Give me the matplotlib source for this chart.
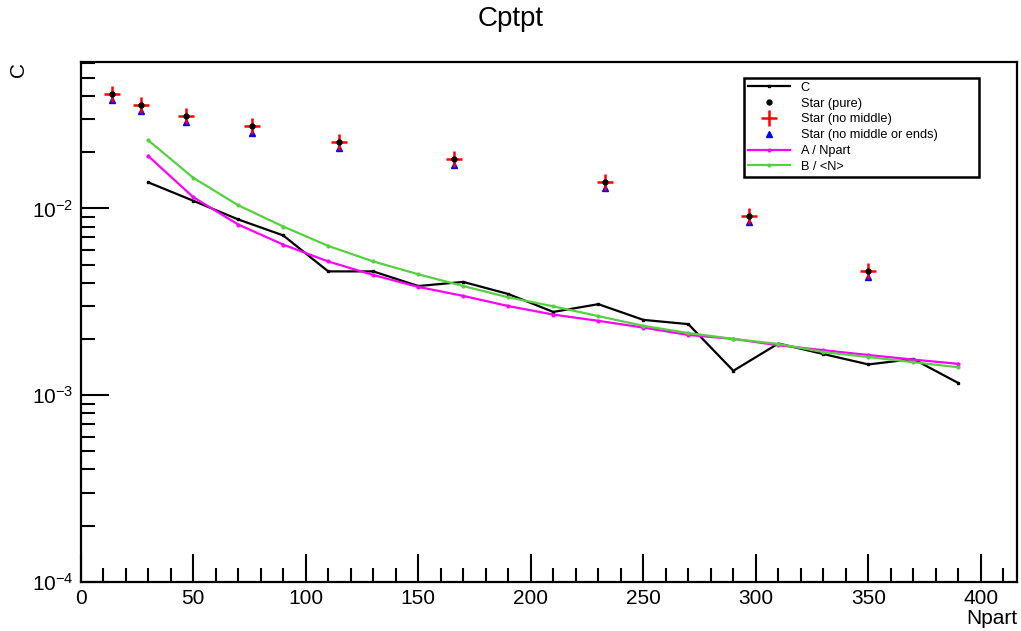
import matplotlib.pyplot as plt
from matplotlib.ticker import LogLocator, MultipleLocator, NullFormatter

plt.rcParams['font.family'] = ['Liberation Sans', 'DejaVu Sans']

# C (black line)
npart_c = [30, 50, 70, 90, 110, 130, 150, 170, 190, 210, 230, 250, 270, 290, 310, 330, 350, 370, 390]
c_vals = [0.0138, 0.0110, 0.00873, 0.00717, 0.00460, 0.00460, 0.00384, 0.00404, 0.00348, 0.00279,
          0.00307, 0.00253, 0.00240, 0.00135, 0.00189, 0.00166, 0.00146, 0.00156, 0.00116]

# A / Npart (magenta) and B / <N> (green)
a_vals = [0.0191, 0.0115, 0.0082, 0.0064, 0.0052, 0.0044, 0.0038, 0.0034, 0.0030, 0.0027,
          0.0025, 0.0023, 0.0021, 0.0020, 0.00185, 0.00174, 0.00164, 0.00155, 0.00147]
b_vals = [0.0232, 0.0146, 0.0104, 0.0080, 0.0063, 0.0052, 0.00444, 0.00384, 0.00334, 0.00299,
          0.00265, 0.00235, 0.00215, 0.00200, 0.00188, 0.00170, 0.00160, 0.00150, 0.00141]

# Star points
npart_star = [14, 27, 47, 76, 115, 166, 233, 297, 350]
star_pure = [0.0412, 0.0360, 0.0314, 0.0275, 0.0228, 0.0183, 0.0138, 0.0091, 0.00461]
star_nomid = [0.0412, 0.0360, 0.0314, 0.0275, 0.0228, 0.0183, 0.0138, 0.0091, 0.00461]
star_noends = [0.0383, 0.0334, 0.0292, 0.0255, 0.0212, 0.0170, 0.0128, 0.00845, 0.00428]

fig = plt.figure(figsize=(10.21, 6.31), dpi=100)
ax = fig.add_axes([0.079, 0.078, 0.917, 0.824])

ax.plot(npart_c, c_vals, color='black', lw=1.6, marker='s', ms=2, label='C')
ax.plot(npart_star, star_pure, ls='none', marker='o', color='black', ms=3.5, label='Star (pure)', zorder=5)
ax.plot(npart_star, star_nomid, ls='none', marker='+', color='red', ms=11, mew=1.8, label='Star (no middle)', zorder=4)
ax.plot(npart_star, star_noends, ls='none', marker='^', color='blue', ms=5, label='Star (no middle or ends)', zorder=3)
ax.plot(npart_c, a_vals, color='#ff00ff', lw=1.6, marker='o', ms=2, label='A / Npart')
ax.plot(npart_c, b_vals, color='#55d040', lw=1.6, marker='o', ms=2, label='B / <N>')

ax.set_yscale('log')
ax.set_xlim(0, 416)
ax.set_ylim(1e-4, 0.061)

ax.xaxis.set_major_locator(MultipleLocator(50))
ax.xaxis.set_minor_locator(MultipleLocator(10))
ax.yaxis.set_major_locator(LogLocator(base=10))
ax.yaxis.set_minor_locator(LogLocator(base=10, subs=range(2, 10)))
ax.yaxis.set_minor_formatter(NullFormatter())

ax.tick_params(which='both', direction='in', top=False, right=False, labelsize=15, width=1.5)
ax.tick_params(which='major', length=20, pad=5)
ax.tick_params(which='minor', length=10)
for s in ax.spines.values():
    s.set_linewidth(1.6)

fig.text(0.5, 0.97, 'Cptpt', ha='center', va='center', fontsize=20)
fig.text(0.018, 0.89, 'C', ha='center', va='center', rotation=90, fontsize=15)
fig.text(0.996, 0.02, 'Npart', ha='right', va='center', fontsize=15)

leg = ax.legend(loc='upper left', bbox_to_anchor=(0.709, 0.781, 0.251, 0.188), mode='expand',
                fontsize=9.2, frameon=True, fancybox=False, edgecolor='black', framealpha=1,
                borderaxespad=0, handlelength=3.3, labelspacing=0.3, borderpad=0.3)
leg.get_frame().set_linewidth(1.8)

fig.savefig('out.png', dpi=100)
